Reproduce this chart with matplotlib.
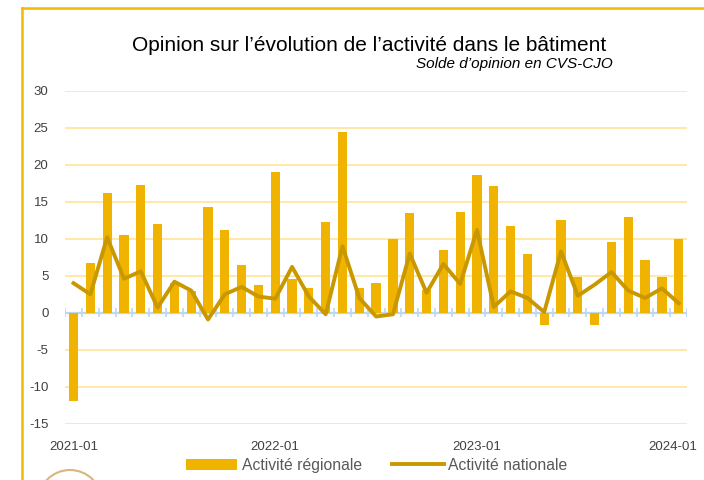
import matplotlib
matplotlib.use("Agg")
import matplotlib.pyplot as plt
import matplotlib.transforms as mtransforms
from matplotlib.lines import Line2D
from matplotlib.patches import Circle, Patch
import numpy as np
import pandas as pd

# months 2021-01 .. 2024-01
months = pd.period_range("2021-01", "2024-01", freq="M").strftime("%Y-%m").tolist()

regionale = [-11.9, 6.7, 16.2, 10.5, 17.2, 12.0, 4.0, 3.0, 14.3, 11.2,
             6.5, 3.8, 19.0, 4.6, 3.4, 12.3, 24.4, 3.3, 4.0, 10.0,
             13.5, 3.1, 8.5, 13.6, 18.6, 17.1, 11.7, 8.0, -1.7, 12.6,
             4.8, -1.7, 9.6, 13.0, 7.2, 4.8, 10.0]

nationale = [4.0, 2.5, 10.2, 4.6, 5.6, 0.7, 4.2, 3.0, -0.9, 2.5,
             3.5, 2.2, 1.9, 6.2, 2.2, -0.2, 9.0, 2.0, -0.5, -0.2,
             8.0, 2.7, 6.6, 3.9, 11.2, 0.8, 2.9, 2.0, 0.1, 8.3,
             2.3, 3.8, 5.5, 3.0, 2.0, 3.3, 1.3]

yticks = [-15, -10, -5, 0, 5, 10, 15, 20, 25, 30]
xlabels = ["2021-01", "2022-01", "2023-01", "2024-01"]

bar_color = "#F0B400"
line_color = "#C99700"
grid_color = "#FFE8A6"
axis_color = "#BDD7EE"
text_color = "#404040"

plt.rcParams["font.family"] = ["Liberation Sans", "DejaVu Sans"]

fig = plt.figure(figsize=(7.04, 4.8), dpi=100)
ax = fig.add_axes([0.0925, 0.117, 0.8835, 0.694])

x = np.arange(len(months))

for y in yticks:
    if y != 0:
        ax.axhline(y, color=grid_color, lw=1.4, zorder=0)

ax.bar(x, regionale, width=0.55, color=bar_color, zorder=2, label="Activité régionale")

# zero axis with month tick marks
ax.axhline(0, color=axis_color, lw=1.6, zorder=1)
ax.vlines(np.arange(len(months) + 1) - 0.5, -0.6, 0.6, color=axis_color, lw=1.2, zorder=1)

ax.plot(x, nationale, color=line_color, lw=2.8, zorder=3, label="Activité nationale")

ax.set_xlim(-0.5, len(months) - 0.5)
ax.set_ylim(-15, 30)
ax.set_yticks(yticks)
ax.set_yticklabels([str(v) for v in yticks])
xt = [months.index(m) for m in xlabels]
ax.set_xticks(xt)
ax.set_xticklabels(xlabels)
ax.tick_params(axis="both", length=0, labelsize=9.5, colors=text_color)
ax.tick_params(axis="x", pad=12)
ax.tick_params(axis="y", pad=12)
for s in ax.spines.values():
    s.set_visible(False)

# last label pushed to the right like the original
last = ax.get_xticklabels()[-1]
last.set_transform(last.get_transform() + mtransforms.ScaledTranslation(-0.06, 0, fig.dpi_scale_trans))

fig.text(0.525, 0.905, "Opinion sur l\u2019évolution de l\u2019activité dans le bâtiment",
         ha="center", va="center", fontsize=15, color="black")
fig.text(0.87, 0.866, "Solde d\u2019opinion en CVS-CJO", ha="right", va="center",
         fontsize=11, style="italic", color="black")

handles = [Patch(facecolor=bar_color, edgecolor="none"),
           Line2D([], [], color=line_color, lw=2.8)]
fig.legend(handles, ["Activité régionale", "Activité nationale"], loc="center",
           bbox_to_anchor=(0.535, 0.031), ncol=2, frameon=False, fontsize=11.3,
           labelcolor="#595959", handlelength=3.3, handleheight=0.7,
           columnspacing=1.9, handletextpad=0.3)

# frame border
fig.add_artist(Line2D([0.031, 1.0], [0.983, 0.983], color="#F5B800", lw=1.8))
fig.add_artist(Line2D([0.031, 0.031], [0.0, 0.983], color="#F5B800", lw=1.8))
# logo edge at bottom left
fig.add_artist(Circle((70, -22), 32, transform=None, fill=False,
                      edgecolor="#D8B680", lw=1.5))

fig.savefig("out.png", dpi=100)
